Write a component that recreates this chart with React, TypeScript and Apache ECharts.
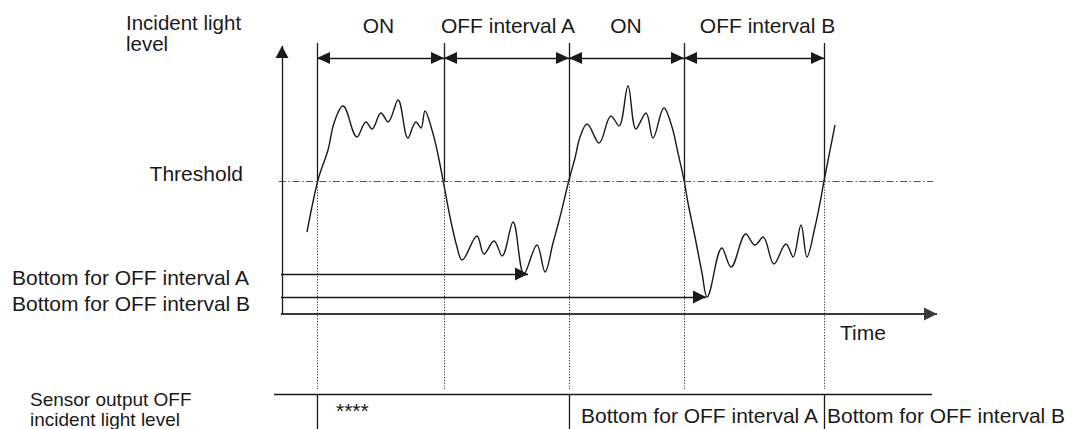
import React, { useEffect, useRef } from "react";
import * as echarts from "echarts";

// ---- data (time units / light-level units) ----
const curveTime = [25, 36, 46, 52, 61, 75, 84, 90, 99, 106, 116, 126, 134, 139, 143, 150, 155, 161, 168, 175, 180, 195, 202, 212, 220, 231, 242, 255, 263, 271, 278, 287, 293, 298, 305, 317, 329, 337, 346, 354, 364, 371, 382, 390, 396, 402, 406, 413, 420, 425, 440, 449, 464, 473, 481, 492, 504, 511, 519, 525, 533, 538, 542, 553];
const curveLevel = [82, 134, 164, 191, 208, 177, 192, 185, 201, 192, 214, 176, 192, 186, 203, 184, 164, 134, 97, 67, 54, 78, 60, 73, 58, 92, 40, 69, 42, 71, 97, 134, 156, 177, 190, 171, 198, 188, 228, 185, 201, 176, 206, 187, 161, 134, 111, 77, 41, 17, 66, 47, 80, 69, 77, 50, 70, 57, 89, 57, 87, 111, 133, 189];
const thresholdLevel = 133;
const crossingTimes = [35, 162, 287, 402, 542];
const intervalLabels = ["ON", "OFF interval A", "ON", "OFF interval B"];
const bottomLabels = ["Bottom for OFF interval A", "Bottom for OFF interval B"];
const bottomTimes = [246, 424];
const bottomLevels = [40, 17];
const outputChangeTimes = [35, 287, 542];
const outputTexts = ["****", "Bottom for OFF interval A", "Bottom for OFF interval B"];

// ---- layout / style ----
const INK = "#1a1a1a";
const FONT = '"Liberation Sans", Arial, Helvetica, sans-serif';
const TIME_END = 655;
const LEVEL_END = 268;
const TOP_LINE = 271;
const ARROW_LEVEL = 256;
const DOT_END = -75;
const PANEL_LEVEL = -80;
const PANEL_BOTTOM = -115;

const txt = (text: string, x: number, y: number, align = "left", size = 21, lineHeight?: number) => ({
  type: "text",
  x,
  y,
  silent: true,
  style: {
    text,
    fill: INK,
    font: `${size}px ${FONT}`,
    align,
    verticalAlign: "middle",
    textAlign: align,
    textVerticalAlign: "middle",
    ...(lineHeight ? { lineHeight } : {}),
  },
});

const NONE = { symbol: "none" };
const tri = (w: number, h: number) => ({ symbol: "triangle", symbolSize: [w, h], symbolOffset: [0, h / 2] });

const seg = (x1: number, y1: number, x2: number, y2: number, from: any = NONE, to: any = NONE) => [
  { coord: [x1, y1], ...from },
  { coord: [x2, y2], ...to },
];

const markLine = (lineStyle: any, data: any[]) => ({
  silent: true,
  animation: false,
  label: { show: false },
  emphasis: { disabled: true },
  symbol: "none",
  symbolSize: 1,
  lineStyle,
  data,
});

const guide = (name: string, lineStyle: any, data: any[]) => ({
  type: "line",
  name,
  data: [],
  clip: false,
  silent: true,
  markLine: markLine(lineStyle, data),
});

function buildOption() {
  const curveData = curveTime.map((t, i) => [t, curveLevel[i]]);
  const intervalArrows = crossingTimes
    .slice(0, -1)
    .map((t, i) => seg(t, ARROW_LEVEL, crossingTimes[i + 1], ARROW_LEVEL, tri(12, 13), tri(12, 13)));

  return {
    animation: false,
    grid: { left: 272, top: 39, width: 670, height: 390, containLabel: false },
    xAxis: { type: "value", min: -10, max: 660, show: false },
    yAxis: { type: "value", min: -115, max: 275, show: false },
    series: [
      {
        type: "line",
        name: "Incident light",
        data: curveData,
        smooth: 0.35,
        showSymbol: false,
        symbol: "none",
        clip: false,
        silent: true,
        lineStyle: { color: INK, width: 1.4 },
      },
      guide("threshold", { color: "#555", width: 1.2, type: [7, 2.5, 1.5, 2.5] }, [
        seg(-3, thresholdLevel, 651, thresholdLevel),
      ]),
      guide("timeAxis", { color: "#3a3a3a", width: 1.8, type: "solid" }, [
        seg(-1, 0, TIME_END, 0, NONE, tri(13, 13)),
      ]),
      guide("levelAxis", { color: INK, width: 1.3, type: "solid" }, [
        seg(0, 0, 0, LEVEL_END, NONE, tri(13, 12)),
      ]),
      guide("boundaries", { color: INK, width: 1.3, type: "solid" }, [
        ...crossingTimes.map((t) => seg(t, thresholdLevel, t, TOP_LINE)),
        seg(-8, PANEL_LEVEL, 650, PANEL_LEVEL),
        ...outputChangeTimes.map((t) => seg(t, PANEL_LEVEL, t, PANEL_BOTTOM)),
      ]),
      guide("dotted", { color: "#333", width: 1, type: [1.2, 1.6] },
        crossingTimes.map((t) => seg(t, thresholdLevel, t, DOT_END))),
      guide("intervals", { color: INK, width: 1.3, type: "solid" }, intervalArrows),
      guide("bottoms", { color: INK, width: 1.3, type: "solid" },
        bottomTimes.map((t, i) => seg(-1, bottomLevels[i], t, bottomLevels[i], NONE, tri(13, 13)))),
    ],
    graphic: [
      txt("Incident light\nlevel", 126, 33, "left", 20.5, 21.5),
      txt(intervalLabels[0], 378.5, 25, "center"),
      txt(intervalLabels[1], 508, 25, "center"),
      txt(intervalLabels[2], 626, 25, "center"),
      txt(intervalLabels[3], 767.5, 25, "center"),
      txt("Threshold", 243, 173.5, "right"),
      txt(bottomLabels[0], 12, 277.5),
      txt(bottomLabels[1], 12, 303.7),
      txt("Time", 840, 332.5),
      txt("Sensor output OFF\nincident light level", 30, 409, "left", 19, 20),
      txt(outputTexts[0], 336, 410),
      txt(outputTexts[1], 581, 415.3),
      txt(outputTexts[2], 827, 415.3),
    ],
  };
}

export default function App() {
  const ref = useRef<HTMLDivElement>(null);
  useEffect(() => {
    document.body.style.margin = "0";
    const chart = echarts.init(ref.current!, null, { renderer: "svg" });
    chart.setOption(buildOption() as any);
    return () => chart.dispose();
  }, []);
  return <div ref={ref} style={{ width: 1079, height: 429 }} />;
}
